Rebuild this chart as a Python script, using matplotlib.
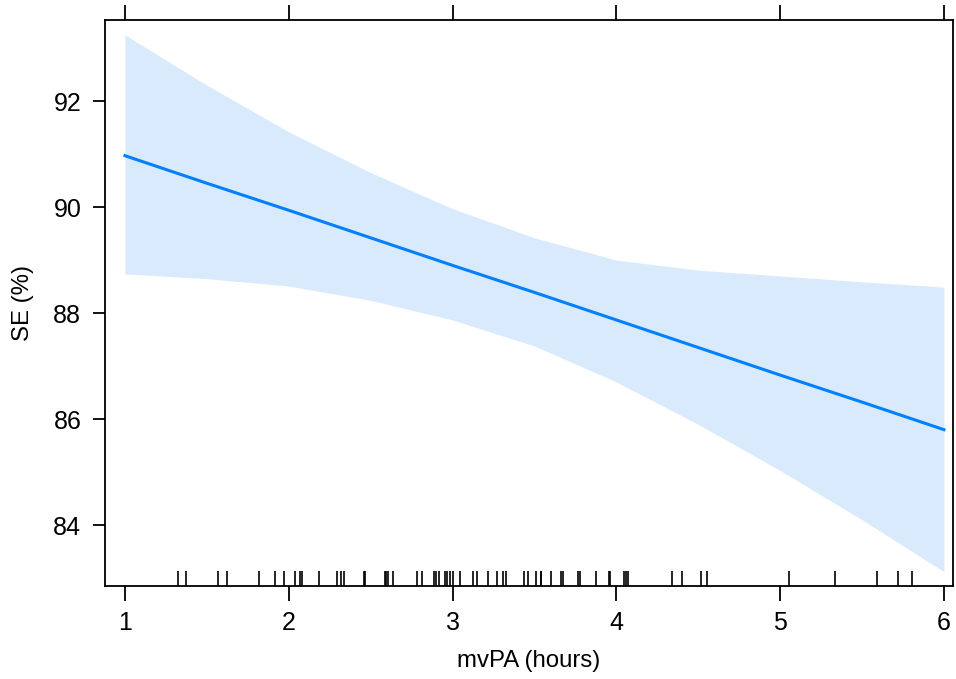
import matplotlib.pyplot as plt

plt.rcParams['font.family'] = ['Liberation Sans', 'DejaVu Sans']

# fitted effect and confidence band
x_grid = [1.0, 1.5, 2.0, 2.5, 3.0, 3.5, 4.0, 4.5, 5.0, 5.5, 6.0]
fit = [90.97, 90.45, 89.94, 89.42, 88.90, 88.39, 87.87, 87.35, 86.83, 86.32, 85.80]
upper = [93.25, 92.30, 91.42, 90.65, 89.97, 89.42, 89.00, 88.81, 88.70, 88.59, 88.49]
lower = [88.74, 88.65, 88.51, 88.24, 87.87, 87.38, 86.70, 85.90, 85.03, 84.10, 83.12]

# observed mvPA values (rug)
rug = [1.322, 1.372, 1.566, 1.621, 1.820, 1.916, 1.973, 2.038, 2.070, 2.078,
       2.186, 2.292, 2.317, 2.339, 2.462, 2.468, 2.590, 2.596, 2.605, 2.638,
       2.781, 2.811, 2.888, 2.899, 2.919, 2.954, 2.968, 2.984, 3.001, 3.045,
       3.123, 3.151, 3.214, 3.269, 3.310, 3.326, 3.438, 3.458, 3.507, 3.537,
       3.543, 3.601, 3.660, 3.676, 3.764, 3.778, 3.875, 3.958, 3.964, 4.046,
       4.059, 4.073, 4.338, 4.402, 4.516, 4.551, 5.054, 5.335, 5.589, 5.721,
       5.803]

xticks = [1, 2, 3, 4, 5, 6]
yticks = [84, 86, 88, 90, 92]

fig = plt.figure(figsize=(9.56, 6.79), dpi=100)
ax = fig.add_axes([0.1098, 0.137, 0.887, 0.8335])

ax.fill_between(x_grid, lower, upper, color='#d9eafd', linewidth=0)
ax.plot(x_grid, fit, color='#0080ff', linewidth=2.2)

# rug along the bottom
ax.vlines(rug, 0, 0.027, transform=ax.get_xaxis_transform(),
          color='black', linewidth=1.2)

ax.set_xlim(0.878, 6.055)
ax.set_ylim(82.85, 93.53)

ax.set_xticks(xticks)
ax.set_yticks(yticks)
ax.tick_params(axis='x', direction='out', length=11, width=1.3,
               top=True, labeltop=False, labelsize=18, pad=7)
ax.tick_params(axis='y', direction='out', length=9, width=1.3,
               right=False, labelsize=18, pad=8)

for s in ax.spines.values():
    s.set_linewidth(1.3)

ax.set_xlabel('mvPA (hours)', fontsize=17.3, labelpad=11)
ax.set_ylabel('SE (%)', fontsize=17.3, labelpad=14)

fig.savefig('out.png', dpi=100)
